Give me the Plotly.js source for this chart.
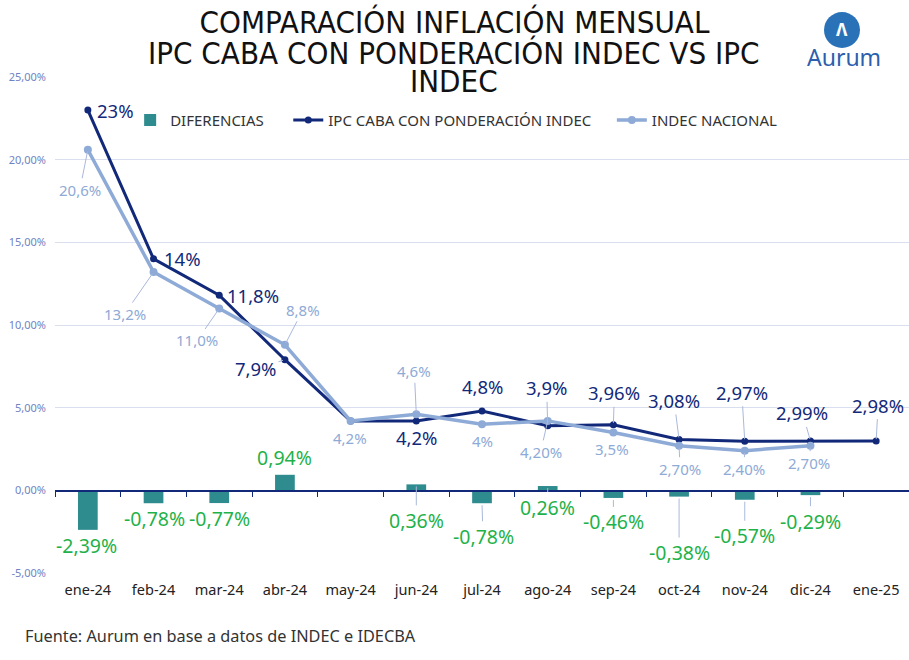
<!DOCTYPE html>
<html><head><meta charset="utf-8">
<script src="https://cdn.plot.ly/plotly-3.0.1.min.js"></script>
<style>html,body{margin:0;padding:0;background:#fff}#chart{width:909px;height:660px}</style>
</head><body><div id="chart"></div>
<script>
// ---- data ----
const months = ["ene-24","feb-24","mar-24","abr-24","may-24","jun-24","jul-24","ago-24","sep-24","oct-24","nov-24","dic-24","ene-25"];
const ipcCaba = [23, 14, 11.8, 7.9, 4.2, 4.2, 4.8, 3.9, 3.96, 3.08, 2.97, 2.99, 2.98];
const indecNacional = [20.6, 13.2, 11.0, 8.8, 4.2, 4.6, 4.0, 4.2, 3.5, 2.7, 2.4, 2.7, null];
const diferencias = [-2.39, -0.78, -0.77, 0.94, -0.06, 0.36, -0.78, 0.26, -0.46, -0.38, -0.57, -0.29, null];
const cabaLabels = ["23%","14%","11,8%","7,9%","","4,2%","4,8%","3,9%","3,96%","3,08%","2,97%","2,99%","2,98%"];
const indecLabels = ["20,6%","13,2%","11,0%","8,8%","4,2%","4,6%","4%","4,20%","3,5%","2,70%","2,40%","2,70%",""];
const difLabels = ["-2,39%","-0,78%","-0,77%","0,94%","","0,36%","-0,78%","0,26%","-0,46%","-0,38%","-0,57%","-0,29%",""];
const yTicks = [-5, 0, 5, 10, 15, 20, 25];
const titleLines = ["COMPARACIÓN INFLACIÓN MENSUAL", "IPC CABA CON PONDERACIÓN INDEC VS IPC", "INDEC"];

// ---- label placement (pixel offsets from the point, leader line flag) ----
const cabaPos = [[28,0,0],[29,0,0],[34,0,0],[-29,9,1],[0,0,0],[1,17,0],[1,-24,0],[-1,-38,1],[1,-32,1],[-5,-39,1],[-3,-49,1],[-8,-28,1],[2,-36,1]];
const indecPos = [[-8,40,1],[-29,42,1],[-22,32,1],[18,-35,1],[-1,17,0],[-2,-43,1],[0,17,0],[-7,31,1],[-1,17,0],[1,23,1],[-1,18,1],[-1,17,1],[0,0,0]];
const difPos = [[-1,16,0],[1,15,0],[0,15,0],[0,-17,0],[0,0,0],[0,36,1],[1,33,1],[0,21,1],[0,24,1],[0,56,1],[0,36,1],[0,26,1],[0,0,0]];

const NAVY = "#12297a", LIGHT = "#8eaad6", TEAL = "#2e8b8e", GREEN = "#1fb24a", LEADER = "#a9b8db";
const FONT = "Noto Sans, Open Sans, sans-serif";
const TFONT = "Liberation Sans Narrow, DejaVu Sans Condensed, sans-serif";
const pad = n => "\u00a0".repeat(n);

const traces = [
  {type:"bar", name:"DIFERENCIAS" + pad(5), x:months, y:diferencias, xaxis:"x2", yaxis:"y",
   marker:{color:TEAL}, width:0.3, hoverinfo:"skip"},
  {type:"scatter", mode:"lines+markers", name:"IPC CABA CON PONDERACIÓN INDEC" + pad(4), x:months, y:ipcCaba,
   line:{color:NAVY, width:3}, marker:{color:NAVY, size:7}, hoverinfo:"skip"},
  {type:"scatter", mode:"lines+markers", name:"INDEC NACIONAL", x:months, y:indecNacional,
   line:{color:LIGHT, width:3.5}, marker:{color:LIGHT, size:8}, hoverinfo:"skip"}
];

const annotations = [];
function addLabels(vals, labels, pos, color, size) {
  vals.forEach((v, i) => {
    if (v === null || !labels[i]) return;
    const p = pos[i];
    annotations.push({x:months[i], y:v, xref:"x", yref:"y", text:labels[i],
      showarrow:true, arrowhead:0, arrowwidth:1, standoff:2,
      arrowcolor: p[2] ? LEADER : "rgba(0,0,0,0)", ax:p[0], ay:p[1],
      font:{family:FONT, size:size, color:color}});
  });
}
addLabels(indecNacional, indecLabels, indecPos, LIGHT, 15);
addLabels(diferencias, difLabels, difPos, GREEN, 19.5);
addLabels(ipcCaba, cabaLabels, cabaPos, NAVY, 18.5);

// title lines 2 and 3 (tight line spacing as in the reference)
[[titleLines[1], 1.048], [titleLines[2], 0.992]].forEach(([t, yy]) => {
  annotations.push({xref:"paper", yref:"paper", x:0.467, y:yy, xanchor:"center", yanchor:"middle",
    text:t, showarrow:false, font:{family:TFONT, size:31, color:"#111"}});
});

annotations.push({xref:"paper", yref:"paper", x:-0.037, y:-0.127, xanchor:"left", yanchor:"middle",
  text:"Fuente: Aurum en base a datos de INDEC e IDECBA", showarrow:false,
  font:{family:FONT, size:16.3, color:"#333"}});
// logo
annotations.push({xref:"paper", yref:"paper", x:0.924, y:1.04, xanchor:"center", yanchor:"middle",
  text:"Aurum", showarrow:false, font:{family:FONT, size:23, color:"#2c5fae"}});
annotations.push({xref:"paper", yref:"paper", x:0.9215, y:1.095, xanchor:"center", yanchor:"middle",
  text:"<b>Λ</b>", showarrow:false, font:{family:FONT, size:17, color:"#ffffff"}});

const layout = {
  width:909, height:660, paper_bgcolor:"#fff", plot_bgcolor:"#fff",
  margin:{l:55, r:0, t:77, b:87},
  separators:",.",
  showlegend:true,
  title:{text:titleLines[0], x:0.5, xanchor:"center", y:1 - 22/660, yanchor:"middle",
    font:{family:TFONT, size:31, color:"#111"}},
  legend:{orientation:"h", x:0.088, y:0.913, xanchor:"left", yanchor:"middle",
    font:{family:FONT, size:15, color:"#333"}, bgcolor:"rgba(0,0,0,0)", traceorder:"normal"},
  xaxis:{type:"category", categoryorder:"array", categoryarray:months, range:[-0.5,12.5],
    showline:false, ticks:"", showgrid:false, zeroline:false, ticklabelstandoff:6,
    tickfont:{family:FONT, size:14.5, color:"#222"}},
  xaxis2:{type:"category", categoryorder:"array", categoryarray:months, matches:"x",
    overlaying:"x", anchor:"free", position:1/6, side:"bottom",
    showticklabels:false, ticks:"outside", tickson:"boundaries", ticklen:5, tickcolor:NAVY,
    showline:true, linecolor:NAVY, linewidth:1.5, showgrid:false, zeroline:false},
  yaxis:{range:[-5,25], tickmode:"array", tickvals:yTicks,
    ticktext:yTicks.map(v => v.toFixed(2).replace(".", ",") + "%"),
    showgrid:true, gridcolor:"#d9dfee", zeroline:false, showline:false, ticks:"",
    ticklabelstandoff:8, tickfont:{family:FONT, size:11, color:"#6f83c4"}},
  annotations:annotations,
  shapes:[{type:"circle", xref:"paper", yref:"paper", x0:0.9005, x1:0.9426, y0:1.0585, y1:1.131,
    fillcolor:"#2a72b8", line:{width:0}}]
};
Plotly.newPlot("chart", traces, layout, {displayModeBar:false, staticPlot:true});
</script></body></html>
